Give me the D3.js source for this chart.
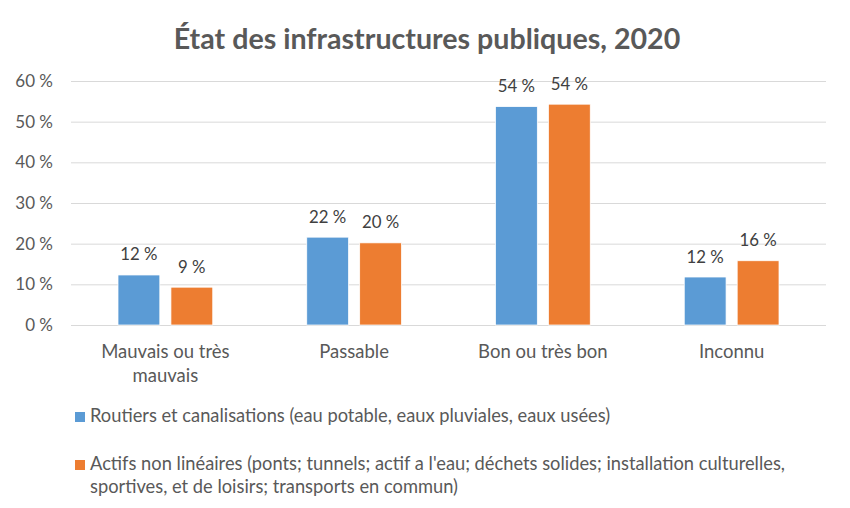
<!DOCTYPE html>
<html><head><meta charset="utf-8">
<script src="https://cdn.jsdelivr.net/npm/d3@7"></script>
<style>body{margin:0;background:#fff}svg{display:block}</style>
</head><body>
<svg id="c" width="850" height="508"></svg>
<script>
const title = "État des infrastructures publiques, 2020";
const categories = [["Mauvais ou très", "mauvais"], ["Passable"], ["Bon ou très bon"], ["Inconnu"]];
const seriesNames = ["Routiers et canalisations (eau potable, eaux pluviales, eaux usées)",
  "Actifs non linéaires (ponts; tunnels; actif a l'eau; déchets solides; installation culturelles,|sportives, et de loisirs; transports en commun)"];
const routiers = [12.3, 21.6, 53.7, 11.8];
const actifs = [9.3, 20.2, 54.3, 15.8];
const yTicks = [0, 10, 20, 30, 40, 50, 60];
const colors = ["#5B9BD5", "#ED7D31"];

const font = "Lato, 'Noto Sans', sans-serif";
const svg = d3.select("#c");
const m = {left: 71, right: 826, top: 81, bottom: 325};
const x = d3.scaleBand().domain(d3.range(categories.length)).range([m.left, m.right]).padding(0);
const xs = d3.scaleBand().domain([0, 1]).range([47, x.bandwidth() - 47]).paddingInner(0.21);
const y = d3.scaleLinear().domain([0, 60]).range([m.bottom, m.top]);

svg.append("text").attr("x", 427).attr("y", 49).attr("text-anchor", "middle")
  .attr("font-family", font).attr("font-weight", "bold").attr("font-size", 28.6).attr("fill", "#595959").text(title);

// grid
svg.append("g").selectAll("line").data(yTicks).join("line")
  .attr("x1", m.left).attr("x2", m.right).attr("y1", d => y(d) + 0.5).attr("y2", d => y(d) + 0.5)
  .attr("stroke", "#d9d9d9").attr("stroke-width", 1);
svg.append("g").selectAll("text").data(yTicks).join("text")
  .attr("x", 53).attr("y", d => y(d)).attr("dy", "0.35em").attr("text-anchor", "end")
  .attr("font-family", font).attr("font-size", 17).attr("fill", "#595959").text(d => d + " %");

const data = [routiers, actifs];
data.forEach((vals, s) => {
  const g = svg.append("g");
  g.selectAll("rect").data(vals).join("rect")
    .attr("x", (d, i) => x(i) + xs(s)).attr("width", xs.bandwidth())
    .attr("y", d => y(d)).attr("height", d => y(0) - y(d))
    .attr("fill", colors[s]).attr("stroke", "#fff").attr("stroke-width", 0.75);
  g.selectAll("text").data(vals).join("text")
    .attr("x", (d, i) => x(i) + xs(s) + xs.bandwidth() / 2).attr("y", d => y(d) - 14.5)
    .attr("text-anchor", "middle").attr("font-family", font).attr("font-size", 16.8).attr("fill", "#404040")
    .text(d => Math.round(d) + " %");
});

// x labels
categories.forEach((lines, i) => {
  const t = svg.append("text").attr("text-anchor", "middle").attr("font-family", font).attr("font-size", 18.5).attr("fill", "#595959");
  lines.forEach((l, k) => t.append("tspan").attr("x", x(i) + x.bandwidth() / 2).attr("y", 358 + k * 24).text(l));
});

// legend
const legY = [422, 470];
seriesNames.forEach((n, s) => {
  svg.append("rect").attr("x", 75).attr("y", legY[s] - 10).attr("width", 10).attr("height", 10).attr("fill", colors[s]);
  const t = svg.append("text").attr("font-family", font).attr("font-size", 18.3).attr("fill", "#595959");
  n.split("|").forEach((l, k) => t.append("tspan").attr("x", 90).attr("y", legY[s] + k * 23).text(l));
});
</script>
</body></html>
